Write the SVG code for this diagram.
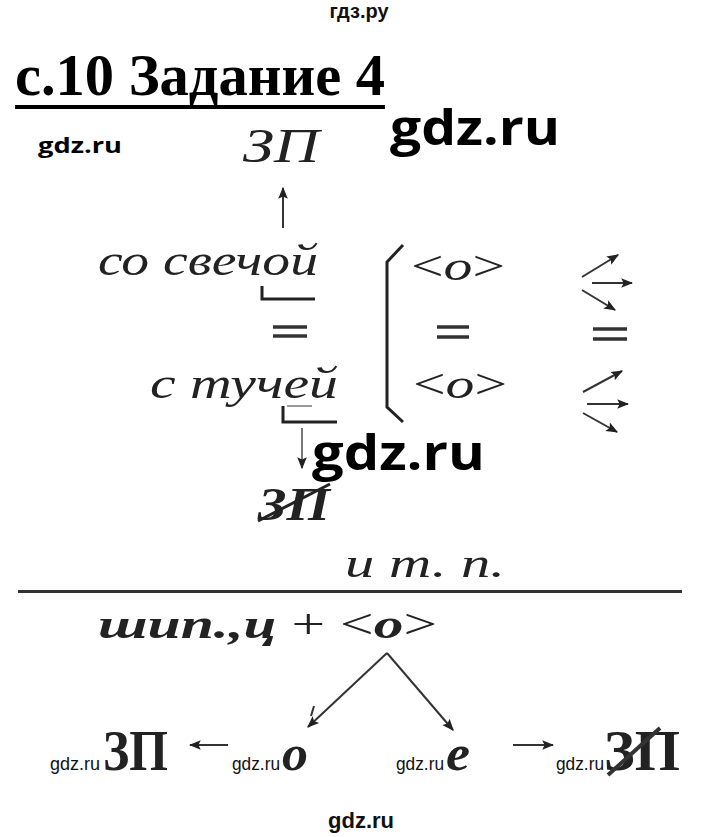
<svg xmlns="http://www.w3.org/2000/svg" width="718" height="837" viewBox="0 0 718 837">
<defs>
<style>
.wm{font-family:"Liberation Sans",Arial,sans-serif;font-weight:700;fill:#111}
.wms{font-family:"Liberation Sans",Arial,sans-serif;font-weight:400;fill:#111}
.wmb{font-family:"Open Sans","DejaVu Sans",sans-serif;font-weight:700;fill:#000}
.it{font-family:"Liberation Serif","Times New Roman",serif;font-style:italic;fill:#222}
.up{font-family:"Liberation Serif","Times New Roman",serif;fill:#222}
.ln{stroke:#333;stroke-width:2;fill:none}
.br{stroke:#222;stroke-width:3;fill:none}
.eq{stroke:#333;stroke-width:3.5}
</style>
<marker id="ah" viewBox="0 0 10 10" refX="9" refY="5" markerWidth="6" markerHeight="6" orient="auto-start-reverse" markerUnits="strokeWidth">
<path d="M0,1 L10,5 L0,9 L2,5 Z" fill="#222"/>
</marker>
</defs>
<rect width="718" height="837" fill="#fff"/>

<g id="watermarks">
<text class="wm" x="359" y="18" font-size="20" text-anchor="middle">гдз.ру</text>
<text class="wmb" x="390" y="145" font-size="48" textLength="170" lengthAdjust="spacingAndGlyphs">gdz.ru</text>
<text class="wmb" x="38" y="153" font-size="22" textLength="84" lengthAdjust="spacingAndGlyphs">gdz.ru</text>
<text class="wmb" x="312" y="470" font-size="48" textLength="173" lengthAdjust="spacingAndGlyphs">gdz.ru</text>
<text class="wms" x="50" y="770" font-size="18" textLength="50" lengthAdjust="spacingAndGlyphs">gdz.ru</text>
<text class="wms" x="232" y="770" font-size="18" textLength="48" lengthAdjust="spacingAndGlyphs">gdz.ru</text>
<text class="wms" x="396" y="770" font-size="18" textLength="48" lengthAdjust="spacingAndGlyphs">gdz.ru</text>
<text class="wms" x="556" y="770" font-size="18" textLength="48" lengthAdjust="spacingAndGlyphs">gdz.ru</text>
<text class="wm" x="361" y="828" font-size="22" text-anchor="middle">gdz.ru</text>
</g>

<g id="title">
<text x="15" y="95" font-family="'Liberation Serif','Times New Roman',serif" font-weight="700" font-size="60" fill="#000" textLength="370" lengthAdjust="spacingAndGlyphs">с.10 Задание 4</text>
<rect x="15" y="105" width="370" height="4" fill="#000"/>
</g>

<g id="zp-top"><text class="it" x="243" y="162" font-size="48" textLength="76" lengthAdjust="spacingAndGlyphs">ЗП</text></g>

<g id="so-svechoy">
<text class="it" x="98" y="275" font-size="44" textLength="220" lengthAdjust="spacingAndGlyphs">со свечой</text>
<path class="br" d="M262,286 V299 H315"/>
</g>

<g id="eq-left"><line class="eq" x1="273" y1="327" x2="307" y2="327"/><line class="eq" x1="273" y1="336" x2="307" y2="336"/></g>

<g id="s-tuchey">
<text class="it" x="150" y="398" font-size="44" textLength="188" lengthAdjust="spacingAndGlyphs">с тучей</text>
<line x1="287" y1="406" x2="312" y2="406" stroke="#999" stroke-width="2"/>
<path class="br" d="M283,406 V422 H337"/>
</g>

<g id="zp-crossed">
<text class="it" x="258" y="520" font-size="46" font-weight="700" textLength="72" lengthAdjust="spacingAndGlyphs">ЗП</text>
<line x1="258" y1="521" x2="330" y2="484" stroke="#222" stroke-width="3"/>
</g>

<g id="bracket"><path class="br" d="M403,245 L387,262 V407 L403,422"/></g>

<g id="o-top"><text class="up" x="411" y="280" font-size="42" textLength="94" lengthAdjust="spacingAndGlyphs">&lt;<tspan font-style="italic">о</tspan>&gt;</text></g>
<g id="eq-mid"><line class="eq" x1="437" y1="327" x2="469" y2="327"/><line class="eq" x1="437" y1="337" x2="469" y2="337"/></g>
<g id="o-bot"><text class="up" x="413" y="398" font-size="42" textLength="94" lengthAdjust="spacingAndGlyphs">&lt;<tspan font-style="italic">о</tspan>&gt;</text></g>
<g id="eq-right"><line class="eq" x1="593" y1="329" x2="627" y2="329"/><line class="eq" x1="593" y1="339" x2="627" y2="339"/></g>

<g id="itp"><text class="it" x="345" y="577" font-size="40" textLength="160" lengthAdjust="spacingAndGlyphs">и т. п.</text></g>
<g id="divider"><rect x="18" y="590" width="664" height="3" fill="#333"/></g>

<g id="shipts"><text class="it" x="98" y="638" font-size="42" font-weight="700" textLength="339" lengthAdjust="spacingAndGlyphs">шип.,ц <tspan font-style="normal" font-weight="400">+ &lt;</tspan>о<tspan font-style="normal" font-weight="400">&gt;</tspan></text></g>

<g id="bottom-zp"><text class="up" x="103" y="770" font-size="56" font-weight="700" textLength="65" lengthAdjust="spacingAndGlyphs">ЗП</text></g>
<g id="bottom-o">
<text class="it" x="282" y="770" font-size="50" font-weight="700" textLength="26" lengthAdjust="spacingAndGlyphs">о</text>
<line x1="314" y1="706" x2="311" y2="716" stroke="#333" stroke-width="2"/>
</g>
<g id="bottom-e"><text class="it" x="446" y="770" font-size="50" font-weight="700" textLength="24" lengthAdjust="spacingAndGlyphs">е</text></g>
<g id="bottom-zp-crossed">
<text class="up" x="604" y="770" font-size="56" font-weight="700" textLength="76" lengthAdjust="spacingAndGlyphs">ЗП</text>
<line x1="608" y1="775" x2="660" y2="728" stroke="#333" stroke-width="4"/>
</g>

<g id="connectors" class="ln" marker-end="url(#ah)">
<line x1="283" y1="228" x2="283" y2="188"/>
<line x1="302" y1="428" x2="302" y2="468" stroke="#777"/>
<line x1="582" y1="277" x2="618" y2="255"/>
<line x1="592" y1="283" x2="632" y2="283"/>
<line x1="582" y1="290" x2="615" y2="310"/>
<line x1="583" y1="392" x2="622" y2="371"/>
<line x1="587" y1="404" x2="628" y2="404"/>
<line x1="583" y1="413" x2="617" y2="432"/>
<line x1="387" y1="653" x2="308" y2="727"/>
<line x1="387" y1="653" x2="453" y2="730"/>
<line x1="228" y1="745" x2="190" y2="745"/>
<line x1="513" y1="745" x2="553" y2="745"/>
</g>
</svg>
